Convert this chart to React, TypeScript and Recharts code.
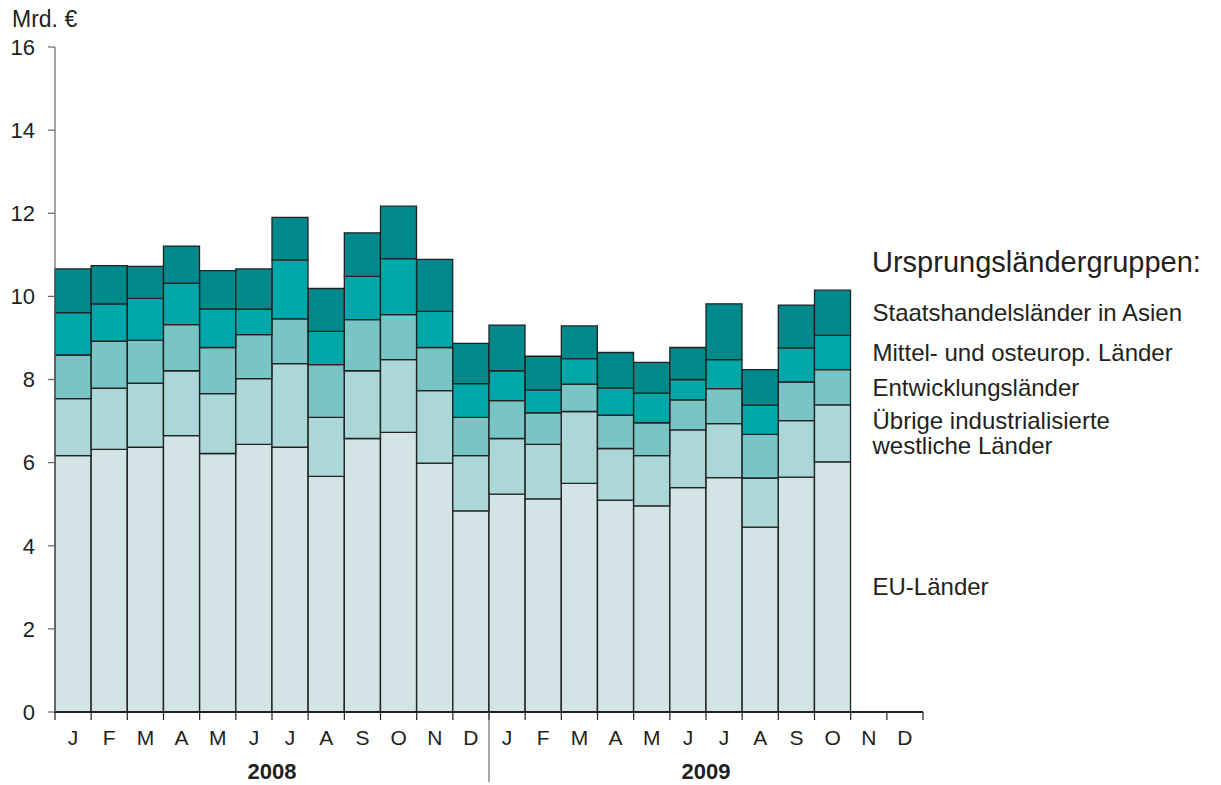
import React from 'react';
import { BarChart, Bar, XAxis, YAxis, LabelList } from 'recharts';

const months = ['J', 'F', 'M', 'A', 'M', 'J', 'J', 'A', 'S', 'O', 'N', 'D', 'J', 'F', 'M', 'A', 'M', 'J', 'J', 'A', 'S', 'O', 'N', 'D'];
const years = ['2008', '2009'];
const yTicks = [0, 2, 4, 6, 8, 10, 12, 14, 16];

const euLaender = [6.17, 6.32, 6.37, 6.65, 6.22, 6.44, 6.37, 5.67, 6.58, 6.73, 5.99, 4.84, 5.24, 5.13, 5.5, 5.1, 4.96, 5.4, 5.64, 4.45, 5.65, 6.02];
const uebrigeWest = [1.37, 1.47, 1.54, 1.56, 1.44, 1.58, 2.01, 1.42, 1.63, 1.75, 1.74, 1.33, 1.34, 1.31, 1.73, 1.24, 1.21, 1.39, 1.3, 1.18, 1.36, 1.37];
const entwicklung = [1.05, 1.13, 1.03, 1.11, 1.11, 1.06, 1.08, 1.27, 1.23, 1.08, 1.04, 0.92, 0.91, 0.76, 0.66, 0.8, 0.79, 0.72, 0.84, 1.05, 0.93, 0.85];
const mittelOst = [1.02, 0.9, 1.01, 1.0, 0.93, 0.61, 1.42, 0.8, 1.04, 1.35, 0.87, 0.81, 0.72, 0.55, 0.61, 0.66, 0.71, 0.49, 0.7, 0.7, 0.82, 0.82];
const staatshandel = [1.05, 0.92, 0.77, 0.89, 0.92, 0.97, 1.02, 1.03, 1.05, 1.26, 1.25, 0.97, 1.1, 0.81, 0.79, 0.85, 0.74, 0.77, 1.34, 0.86, 1.03, 1.09];

const labelEU = ['EU-Länder'];
const labelUebrige = ['Übrige industrialisierte', 'westliche Länder'];
const labelEntw = ['Entwicklungsländer'];
const labelMittel = ['Mittel- und osteurop. Länder'];
const labelStaats = ['Staatshandelsländer in Asien'];
const legendTitle = 'Ursprungsländergruppen:';
const unitLabel = 'Mrd. €';

const data = months.map((m, i) => ({
  idx: i,
  month: m,
  eu: euLaender[i],
  ue: uebrigeWest[i],
  en: entwicklung[i],
  mo: mittelOst[i],
  st: staatshandel[i],
}));

const lastIdx = euLaender.length - 1;
const TEXT = '#231f20';
const FONT = '"Liberation Sans", Arial, Helvetica, sans-serif';

const MonthTick = (props: any) => {
  const { x, y, payload } = props;
  const off = payload && typeof payload.offset === 'number' ? payload.offset : 18;
  const i = payload && typeof payload.index === 'number' ? payload.index : props.index;
  return (
    <g>
      <line x1={x - off} x2={x - off} y1={y} y2={y + 8} stroke="#222" strokeWidth={1.2} />
      {i === months.length - 1 && (
        <line x1={x + off} x2={x + off} y1={y} y2={y + 8} stroke="#222" strokeWidth={1.2} />
      )}
      <text x={x} y={y + 33} textAnchor="middle" fontSize={21} fill={TEXT} fontFamily={FONT}>
        {months[i]}
      </text>
      {i % 12 === 6 && (
        <text x={x - off} y={y + 67} textAnchor="middle" fontSize={22} fontWeight="bold" fill={TEXT} fontFamily={FONT}>
          {years[Math.floor(i / 12)]}
        </text>
      )}
      {i === 12 && <line x1={x - off} x2={x - off} y1={y} y2={y + 70} stroke="#555" strokeWidth={1} />}
    </g>
  );
};

const makeSideLabel = (lines: string[]) => (props: any) => {
  const { x, y, width, height, index } = props;
  if (index !== lastIdx) return null;
  const top = Math.min(y, y + height);
  const cy = top + Math.abs(height) / 2;
  const tx = x + width + 22;
  const lh = 25;
  const first = cy - ((lines.length - 1) * lh) / 2 + 8.5;
  return (
    <text x={tx} y={first} fontSize={24} fill={TEXT} fontFamily={FONT}>
      {lines.map((l, k) => (
        <tspan key={k} x={tx} dy={k === 0 ? 0 : lh}>
          {l}
        </tspan>
      ))}
    </text>
  );
};

const C_EU = '#d2e4e6';
const C_UE = '#acd7d8';
const C_EN = '#79c4c5';
const C_MO = '#00a7a8';
const C_ST = '#00898a';

export default function App() {
  return (
    <div style={{ position: 'absolute', left: 0, top: 0, width: 1221, height: 785, background: '#fff', fontFamily: FONT }}>
      <div style={{ position: 'absolute', left: 12, top: 8, fontSize: 23, color: TEXT, lineHeight: '23px', whiteSpace: 'nowrap' }}>{unitLabel}</div>
      <div style={{ position: 'absolute', left: 872, top: 248, fontSize: 29, color: TEXT, lineHeight: '29px', whiteSpace: 'nowrap' }}>
        {legendTitle}
      </div>
      <BarChart
        width={1221}
        height={785}
        data={data}
        margin={{ top: 47, right: 298, left: 0, bottom: 0 }}
        barCategoryGap={0}
        barGap={0}
      >
        <XAxis
          dataKey="idx"
          type="category"
          height={73}
          interval={0}
          tickLine={false}
          tickSize={0}
          tickMargin={0}
          axisLine={{ stroke: '#222', strokeWidth: 2 }}
          tick={<MonthTick />}
        />
        <YAxis
          width={55}
          domain={[0, 16]}
          ticks={yTicks}
          interval={0}
          axisLine={{ stroke: '#666', strokeWidth: 1.2 }}
          tickLine={{ stroke: '#666', strokeWidth: 1.2 }}
          tickSize={7}
          tickMargin={13}
          tick={{ fontSize: 22, fill: TEXT, fontFamily: FONT }}
        />
        <Bar dataKey="eu" stackId="a" fill={C_EU} stroke="#222" strokeWidth={1.3} isAnimationActive={false}>
          <LabelList dataKey="eu" content={makeSideLabel(labelEU)} />
        </Bar>
        <Bar dataKey="ue" stackId="a" fill={C_UE} stroke="#222" strokeWidth={1.3} isAnimationActive={false}>
          <LabelList dataKey="ue" content={makeSideLabel(labelUebrige)} />
        </Bar>
        <Bar dataKey="en" stackId="a" fill={C_EN} stroke="#222" strokeWidth={1.3} isAnimationActive={false}>
          <LabelList dataKey="en" content={makeSideLabel(labelEntw)} />
        </Bar>
        <Bar dataKey="mo" stackId="a" fill={C_MO} stroke="#222" strokeWidth={1.3} isAnimationActive={false}>
          <LabelList dataKey="mo" content={makeSideLabel(labelMittel)} />
        </Bar>
        <Bar dataKey="st" stackId="a" fill={C_ST} stroke="#222" strokeWidth={1.3} isAnimationActive={false}>
          <LabelList dataKey="st" content={makeSideLabel(labelStaats)} />
        </Bar>
      </BarChart>
    </div>
  );
}
